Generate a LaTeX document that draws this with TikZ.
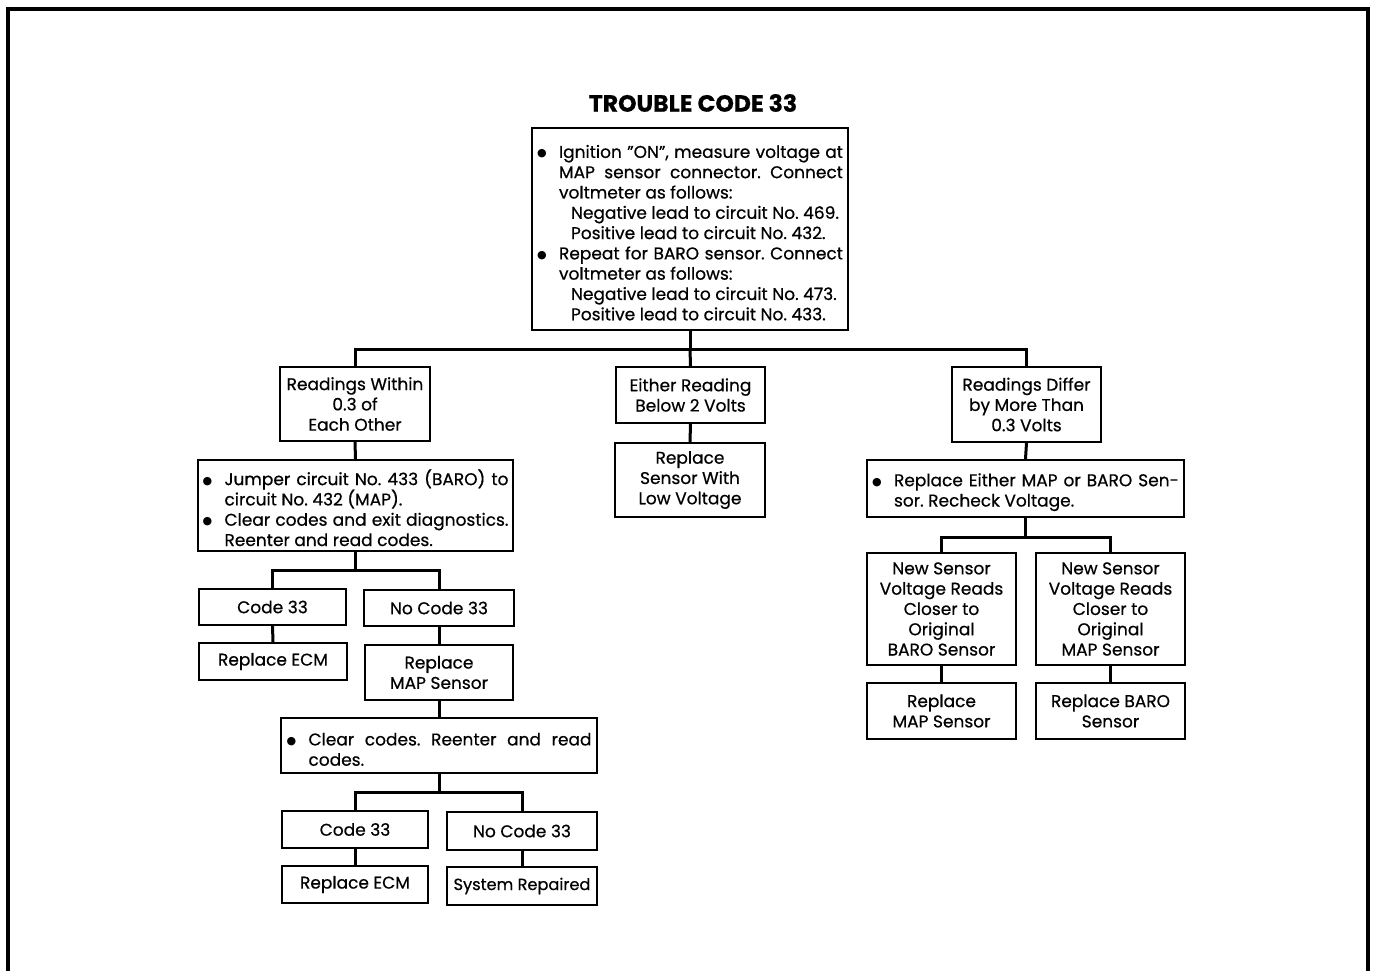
\documentclass[tikz,border=0pt]{standalone}
\usepackage{fontspec}
\setmainfont{Poppins}[FakeBold=0.6]
\newfontfamily\symfont{DejaVu Sans}
\frenchspacing
\newcommand\bodyfont{\fontsize{17}{20.3}\selectfont}
% filled round bullet
\newcommand\blt{\raisebox{1pt}{\symfont\fontsize{11}{11}\selectfont ●}}
% bullet paragraph with hanging indent
\newcommand\bitem[1]{\par\hangindent=22pt\hangafter=1\noindent\hbox to 22pt{\blt\hfil}#1\par}
% indented follow-on line
\newcommand\lead[1]{\par\noindent\hspace*{34pt}#1\par}
\tikzset{
  box/.style={draw, line width=2pt, inner sep=0pt, font=\bodyfont},
  ctext/.style={box, align=center},
  btext/.style={box, text width=#1, align=justify},
  conn/.style={line width=3pt},
}
\begin{document}
\begin{tikzpicture}[x=1pt, y=-1pt]
\useasboundingbox (0,0) rectangle (1374,971);
% outer frame, open at the bottom
\draw[line width=4pt] (8,990) -- (8,9.5) -- (1368,9.5) -- (1368,990);

\node (title) at (693,103) {\fontsize{23.5}{26}\selectfont\bfseries TROUBLE CODE 33};

\node[btext=306pt, minimum width=316pt, minimum height=202pt] (top) at (690,229) {%
\bitem{Ignition "ON", measure voltage at\linebreak MAP sensor connector. Connect\linebreak voltmeter as follows:}
\lead{Negative lead to circuit No. 469.}
\lead{Positive lead to circuit No. 432.}
\bitem{Repeat for BARO sensor. Connect\linebreak voltmeter as follows:}
\lead{Negative lead to circuit No. 473.}
\lead{Positive lead to circuit No. 433.}};

% first level
\node[ctext, minimum width=150pt, minimum height=74pt] (rw) at (355,404) {Readings Within\\0.3 of\\Each Other};
\node[ctext, minimum width=149pt, minimum height=56pt] (er) at (690.5,395) {Either Reading\\Below 2 Volts};
\node[ctext, minimum width=149pt, minimum height=75pt] (rd) at (1026.5,404.5) {Readings Differ\\by More Than\\0.3 Volts};

% left branch
\node[btext=306pt, minimum width=315pt, minimum height=91pt] (jmp) at (355.5,505.5) {%
\bitem{Jumper circuit No. 433 (BARO) to\linebreak circuit No. 432 (MAP).}
\bitem{Clear codes and exit diagnostics.\linebreak Reenter and read codes.}};
\node[ctext, minimum width=147pt, minimum height=36pt] (c1) at (272.5,607) {Code 33};
\node[ctext, minimum width=150pt, minimum height=36pt] (n1) at (439,608) {No Code 33};
\node[ctext, minimum width=148pt, minimum height=37pt] (e1) at (273,661.5) {Replace ECM};
\node[ctext, minimum width=148pt, minimum height=55pt] (rm) at (439,672.5) {Replace\\MAP Sensor};
\node[btext=305pt, minimum width=316pt, minimum height=55pt] (clr) at (439,745.5) {%
\bitem{Clear codes. Reenter and read\linebreak codes.}};
\node[ctext, minimum width=146pt, minimum height=37pt] (c2) at (355,829.5) {Code 33};
\node[ctext, minimum width=150pt, minimum height=38pt] (n2) at (522,831) {No Code 33};
\node[ctext, minimum width=146pt, minimum height=37pt] (e2) at (355,884.5) {Replace ECM};
\node[ctext, minimum width=150pt, minimum height=38pt] (sr) at (522,886) {\fontsize{16.2}{20.3}\selectfont System Repaired};

% middle branch
\node[ctext, minimum width=150pt, minimum height=74pt] (rs) at (690,480) {Replace\\Sensor With\\Low Voltage};

% right branch
\node[btext=307pt, minimum width=317pt, minimum height=57pt] (re) at (1025.5,488.5) {%
\bitem{Replace Either MAP or BARO Sen-\linebreak sor. Recheck Voltage.}};
\node[ctext, minimum width=149pt, minimum height=112pt] (nb) at (941.5,609) {New Sensor\\Voltage Reads\\Closer to\\Original\\BARO Sensor};
\node[ctext, minimum width=149pt, minimum height=112pt] (nm) at (1110.5,609) {New Sensor\\Voltage Reads\\Closer to\\Original\\MAP Sensor};
\node[ctext, minimum width=149pt, minimum height=56pt] (rpm) at (941.5,711) {Replace\\MAP Sensor};
\node[ctext, minimum width=149pt, minimum height=56pt] (rpb) at (1110.5,711) {Replace BARO\\Sensor};

% junction points
\coordinate (j1) at (690,349);
\coordinate (j2) at (355.5,570);
\coordinate (j3) at (439,792);
\coordinate (j4) at (1025.5,537);

% connectors
\draw[conn] (top.south) -- (j1);
\draw[conn] (rw.north) |- (j1) -| (rd.north);
\draw[conn] (j1) -- (er.north);
\draw[conn] (rw.south) -- (jmp.north);
\draw[conn] (er.south) -- (rs.north);
\draw[conn] (rd.south) -- (re.north);
\draw[conn] (jmp.south) -- (j2);
\draw[conn] (c1.north) |- (j2) -| (n1.north);
\draw[conn] (c1.south) -- (e1.north);
\draw[conn] (n1.south) -- (rm.north);
\draw[conn] (rm.south) -- (clr.north);
\draw[conn] (clr.south) -- (j3);
\draw[conn] (c2.north) |- (j3) -| (n2.north);
\draw[conn] (c2.south) -- (e2.north);
\draw[conn] (n2.south) -- (sr.north);
\draw[conn] (re.south) -- (j4);
\draw[conn] (nb.north) |- (j4) -| (nm.north);
\draw[conn] (nb.south) -- (rpm.north);
\draw[conn] (nm.south) -- (rpb.north);
\end{tikzpicture}
\end{document}
